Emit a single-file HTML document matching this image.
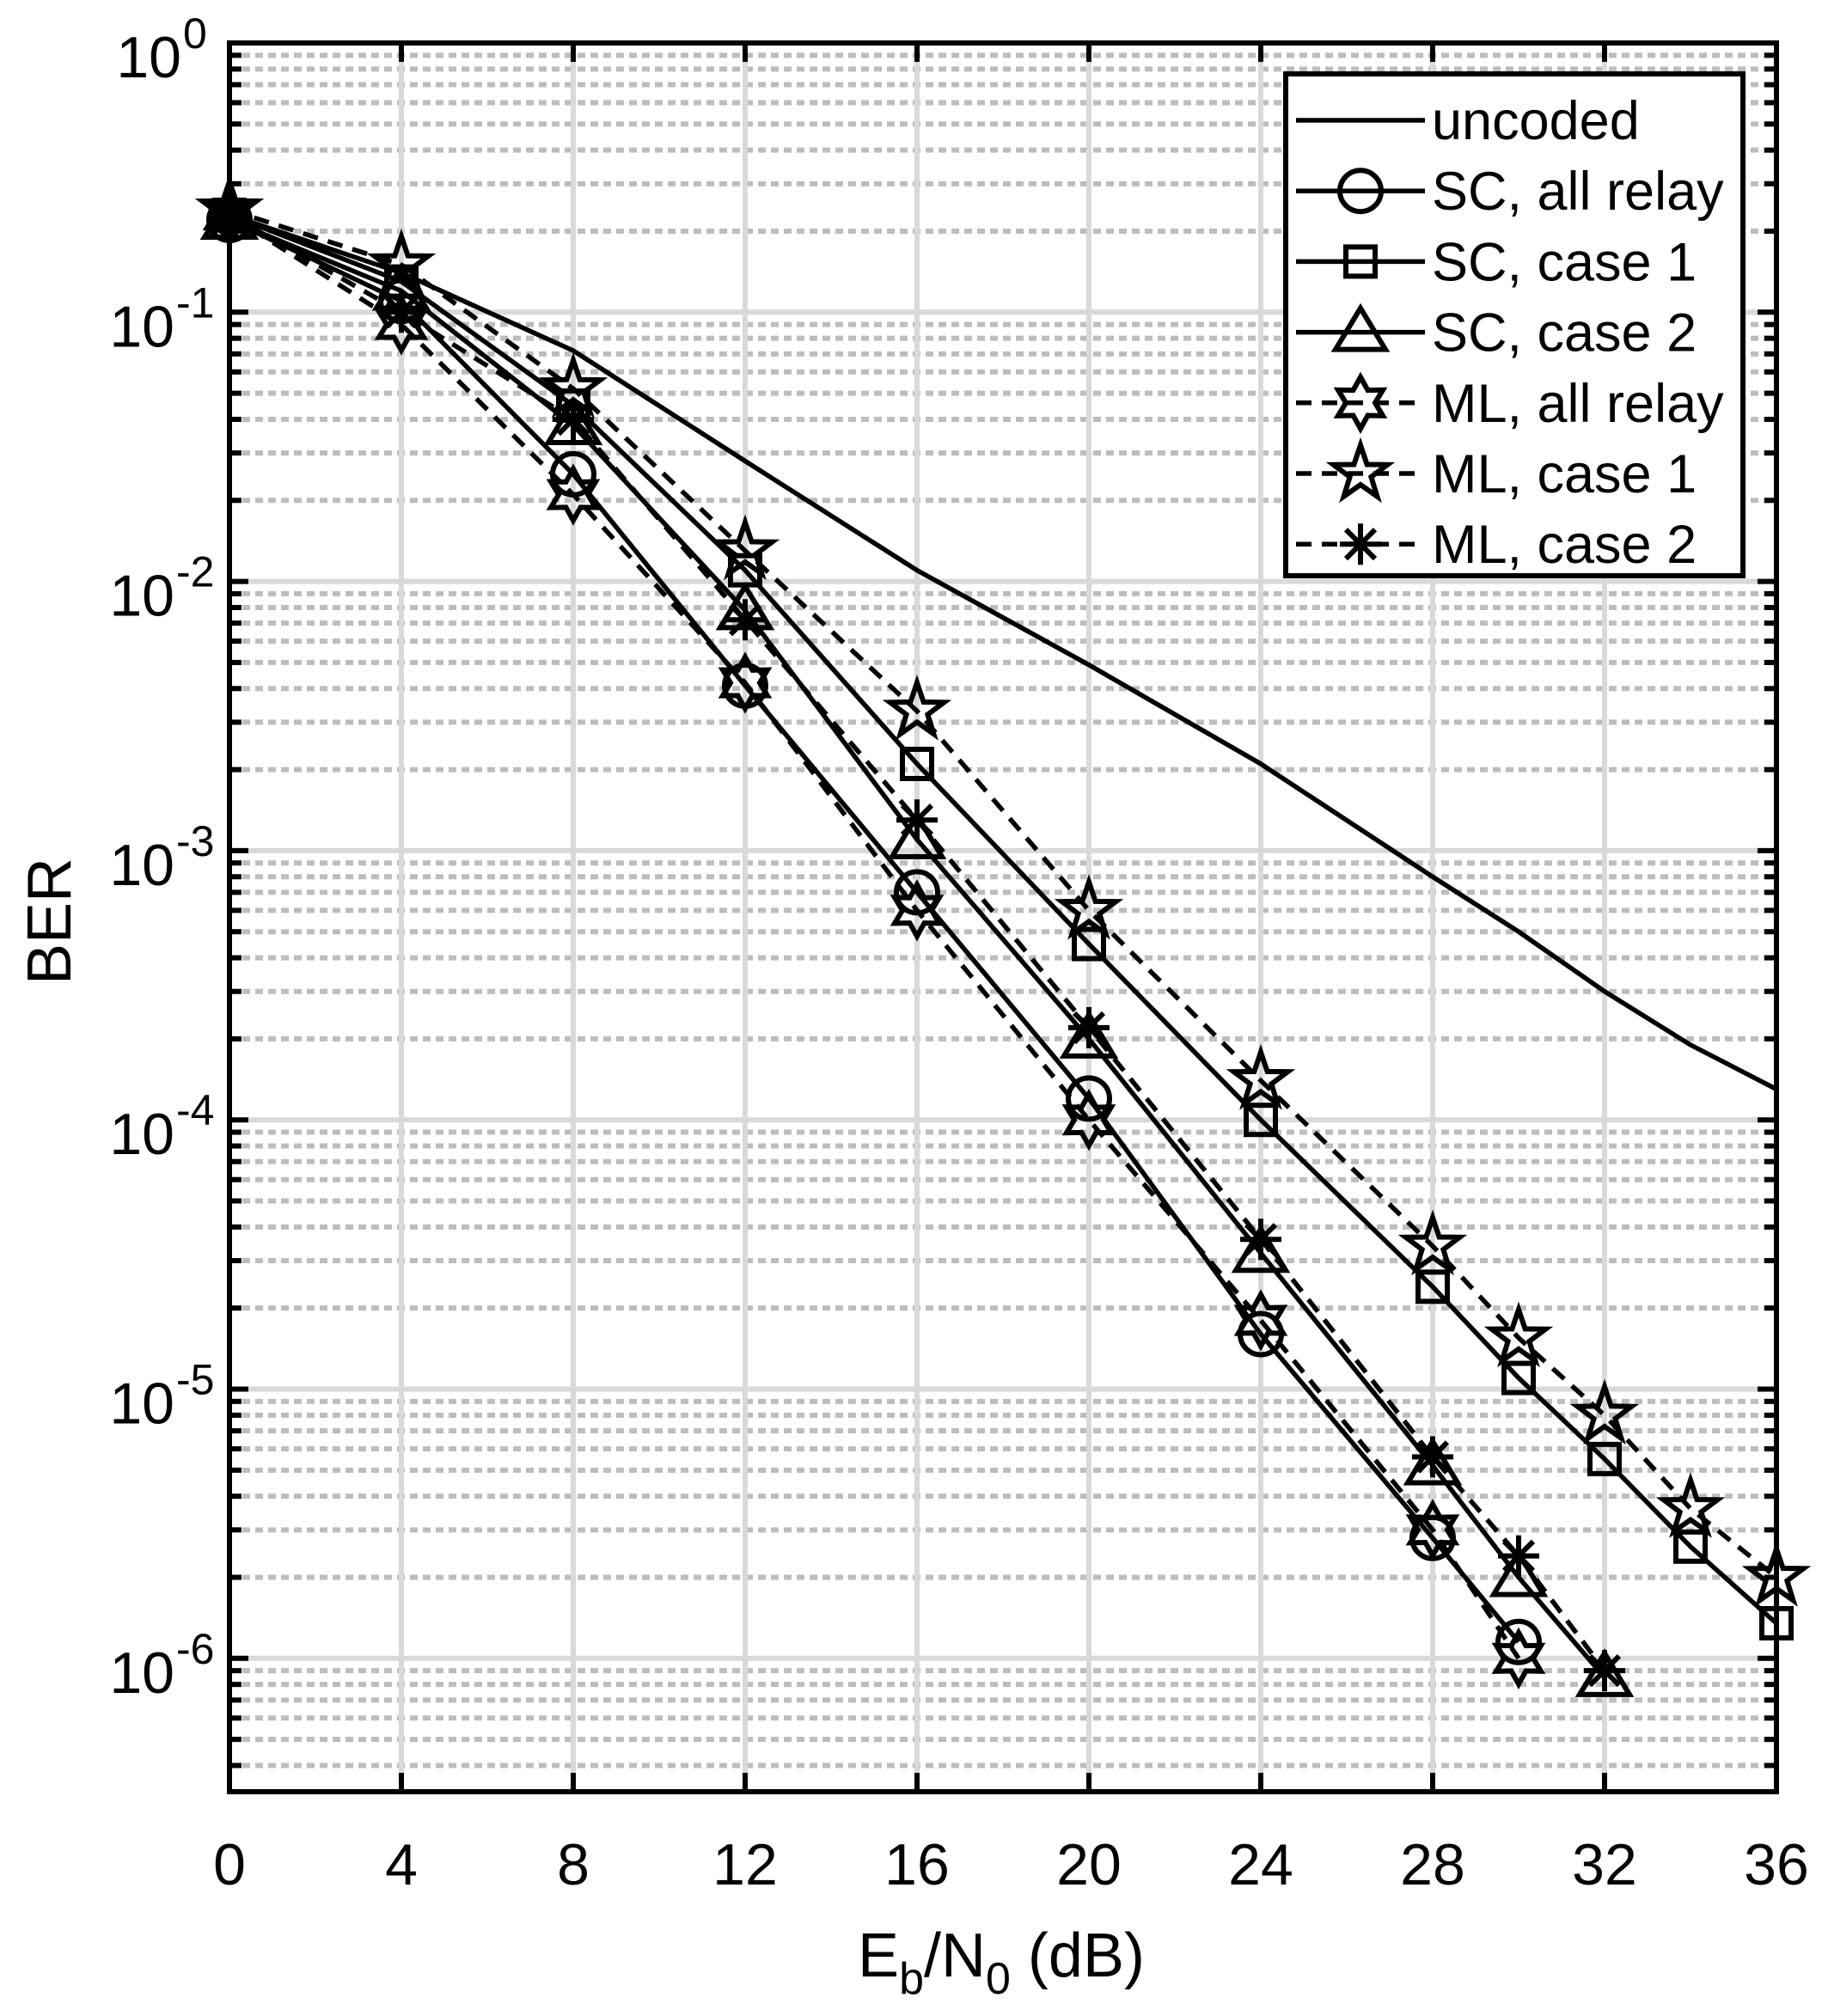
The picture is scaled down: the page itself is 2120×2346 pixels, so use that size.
<!DOCTYPE html>
<html><head><meta charset="utf-8"><style>
html,body{margin:0;padding:0;background:#fff;}
svg{display:block;}
text{font-family:"Liberation Sans",Arial,sans-serif;fill:#000;}
</style></head><body>
<svg id="s" width="2120" height="2346" viewBox="0 0 2120 2346" xmlns="http://www.w3.org/2000/svg"></svg>
<script>
const L=267,R=2067,T=50,B=2085,D=313.3;
const X=x=>L+(x/36)*(R-L);
const Y=v=>T+(-Math.log10(v))*D;
let s='';
for(let d=0;d<7;d++){for(let m=2;m<=9;m++){const v=m*Math.pow(10,-d-1);const y=Y(v);if(y<T||y>B)continue;
s+=`<line x1="${L}" x2="${R}" y1="${y}" y2="${y}" stroke="#bdbdbd" stroke-width="6" stroke-dasharray="9,6"/>`;
s+=`<line x1="${L}" x2="${L+14}" y1="${y}" y2="${y}" stroke="#000" stroke-width="6"/><line x1="${R-14}" x2="${R}" y1="${y}" y2="${y}" stroke="#000" stroke-width="6"/>`;}}
for(let x=4;x<36;x+=4){s+=`<line x1="${X(x)}" x2="${X(x)}" y1="${T}" y2="${B}" stroke="#d9d9d9" stroke-width="6"/>`;}
for(let d=1;d<=6;d++){const y=Y(Math.pow(10,-d));s+=`<line x1="${L}" x2="${R}" y1="${y}" y2="${y}" stroke="#d9d9d9" stroke-width="6"/>`;}
for(let x=0;x<=36;x+=4){s+=`<line x1="${X(x)}" x2="${X(x)}" y1="${B}" y2="${B-22}" stroke="#000" stroke-width="6"/><line x1="${X(x)}" x2="${X(x)}" y1="${T}" y2="${T+22}" stroke="#000" stroke-width="6"/>`;
s+=`<text x="${X(x)}" y="${B+108}" font-size="68" text-anchor="middle">${x}</text>`;}
for(let d=0;d<=6;d++){const y=Y(Math.pow(10,-d));s+=`<line x1="${L}" x2="${L+22}" y1="${y}" y2="${y}" stroke="#000" stroke-width="6"/><line x1="${R-22}" x2="${R}" y1="${y}" y2="${y}" stroke="#000" stroke-width="6"/>`;
const sup=d==0?'0':'-'+d;
s+=`<text x="${d==0?211:203}" y="${y+40}" font-size="68" text-anchor="end">10</text><text x="${d==0?213:205}" y="${y+6}" font-size="50">${sup}</text>`;}
const data={
unc:[[0,.23],[4,.14],[8,.072],[12,.028],[16,.011],[20,.0049],[24,.0021],[28,.0008],[30,.0005],[32,.0003],[34,.00019],[36,.00013]],
scA:[[0,.22],[4,.11],[8,.025],[12,.0041],[16,.0007],[20,.00012],[24,1.6e-5],[28,2.8e-6],[30,1.15e-6]],
sc1:[[0,.23],[4,.13],[8,.045],[12,.011],[16,.0021],[20,.00045],[24,1e-4],[28,2.4e-5],[30,1.1e-5],[32,5.5e-6],[34,2.6e-6],[36,1.35e-6]],
sc2:[[0,.22],[4,.12],[8,.038],[12,.0078],[16,.0011],[20,.0002],[24,3.2e-5],[28,5.2e-6],[30,2e-6],[32,8.5e-7]],
mlA:[[0,.23],[4,.09],[8,.021],[12,.0042],[16,.0006],[20,.0001],[24,1.8e-5],[28,3e-6],[30,1e-6]],
ml1:[[0,.24],[4,.15],[8,.052],[12,.013],[16,.0033],[20,.0006],[24,1.4e-4],[28,3.4e-5],[30,1.55e-5],[32,8e-6],[34,3.6e-6],[36,2e-6]],
ml2:[[0,.23],[4,.1],[8,.04],[12,.0072],[16,.0013],[20,.00022],[24,3.6e-5],[28,5.6e-6],[30,2.4e-6],[32,9e-7]]};
function star(cx,cy,n,ro,ri){let p=[];for(let i=0;i<2*n;i++){const r=i%2?ri:ro;const a=-Math.PI/2+i*Math.PI/n;p.push((cx+r*Math.cos(a)).toFixed(1)+','+(cy+r*Math.sin(a)).toFixed(1));}return p.join(' ');}
function mk(t,x,y){const st='fill="none" stroke="#000" stroke-width="6"';
if(t=='o')return `<circle cx="${x}" cy="${y}" r="24" ${st}/>`;
if(t=='s')return `<rect x="${x-17}" y="${y-17}" width="34" height="34" ${st}/>`;
if(t=='^')return `<polygon points="${x},${y-28} ${x+29},${y+20} ${x-29},${y+20}" ${st}/>`;
if(t=='h')return `<polygon points="${star(x,y,6,30,17)}" ${st}/>`;
if(t=='p')return `<polygon points="${star(x,y,5,33,13)}" ${st}/>`;
if(t=='*'){let r='';for(let i=0;i<4;i++){const a=i*Math.PI/4;r+=`<line x1="${x-24*Math.cos(a)}" y1="${y-24*Math.sin(a)}" x2="${x+24*Math.cos(a)}" y2="${y+24*Math.sin(a)}" stroke="#000" stroke-width="6"/>`;}return r;}
return '';}
const series=[['unc','',''],['scA','o',''],['sc1','s',''],['sc2','^',''],['mlA','h','18,12'],['ml1','p','18,12'],['ml2','*','18,12']];
for(const [k,m,da] of series){const pts=data[k].map(p=>X(p[0]).toFixed(1)+','+Y(p[1]).toFixed(1)).join(' ');
s+=`<polyline points="${pts}" fill="none" stroke="#000" stroke-width="5.5" ${da?`stroke-dasharray="${da}"`:''}/>`;
if(m)for(const p of data[k])s+=mk(m,X(p[0]),Y(p[1]));}
s+=`<circle cx="${X(0)}" cy="${Y(0.225)}" r="22" fill="#000"/>`;
s+=`<rect x="${L}" y="${T}" width="${R-L}" height="${B-T}" fill="none" stroke="#000" stroke-width="6"/>`;
s+=`<rect x="1496" y="86" width="532" height="584" fill="#fff" stroke="#000" stroke-width="6"/>`;
const names=['uncoded','SC, all relay','SC, case 1','SC, case 2','ML, all relay','ML, case 1','ML, case 2'];
names.forEach((n,i)=>{const y=140+i*82.2;const [k,m,da]=series[i];
s+=`<line x1="1508" x2="1658" y1="${y}" y2="${y}" stroke="#000" stroke-width="5.5" ${da?`stroke-dasharray="${da}"`:''}/>`;
if(m)s+=mk(m,1583,y);
s+=`<text x="1666" y="${y+22}" font-size="63">${n}</text>`;});
s+=`<text x="1165" y="2300" font-size="72" text-anchor="middle">E<tspan font-size="52" dy="20">b</tspan><tspan dy="-20">/N</tspan><tspan font-size="52" dy="20">0</tspan><tspan dy="-20"> (dB)</tspan></text>`;
s+=`<text transform="translate(82,1072) rotate(-90)" font-size="72" text-anchor="middle">BER</text>`;
document.getElementById('s').innerHTML=s;
</script>
</body></html>
